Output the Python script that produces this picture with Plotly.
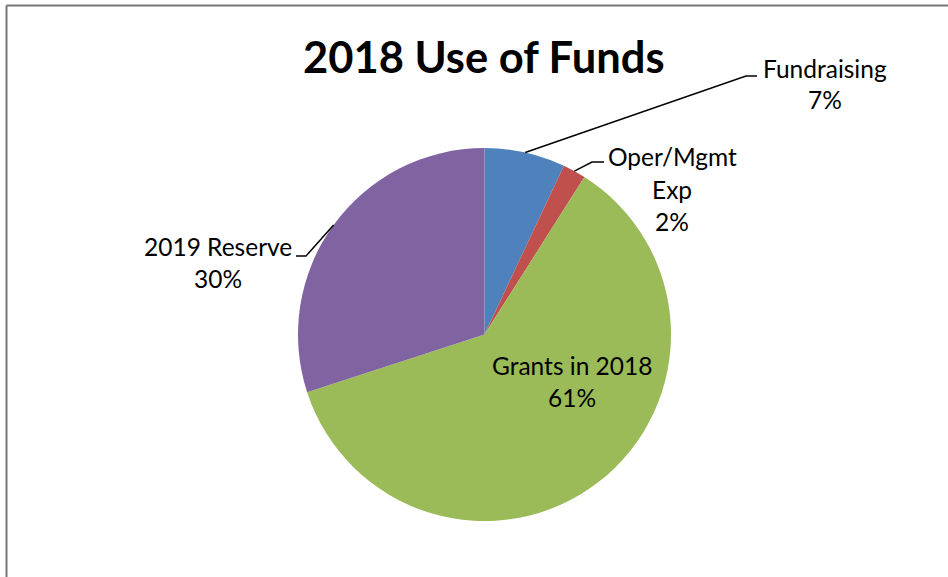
import math
import plotly.graph_objects as go

# Budget allocation, percent of total funds
categories = ["Fundraising", "Oper/Mgmt Exp", "Grants in 2018", "2019 Reserve"]
label_lines = [["Fundraising"], ["Oper/Mgmt", "Exp"], ["Grants in 2018"], ["2019 Reserve"]]
shares = [7, 2, 61, 30]
colors = ["#4F81BD", "#C0504D", "#9BBB59", "#8064A2"]

W, H = 948, 577
FONT = "Lato"

# pie geometry in pixels
cx, cy, R = 484.5, 334.5, 186.5

def px(x):
    return x / W

def py(y):
    return 1 - y / H

fig = go.Figure(go.Pie(
    labels=categories,
    values=shares,
    sort=False,
    direction="clockwise",
    rotation=0,
    textinfo="none",
    hoverinfo="label+percent",
    marker=dict(colors=colors, line=dict(width=0)),
    domain=dict(x=[px(cx - R), px(cx + R)], y=[py(cy + R), py(cy - R)]),
    showlegend=False,
))

# label placement (centre x, first-line y) and leader elbow/end points
label_pos = [(825, 68), (672, 157), (572, 365), (218, 247)]
leaders = [
    [(746, 76), (757, 76)],
    [(592, 162), (604, 162)],
    None,
    [(306, 256), (296, 256)],
]

annotations = []
shapes = []
total = sum(shares)
start = 0.0
for i, v in enumerate(shares):
    mid = (start + v / 2) / total * 2 * math.pi
    start += v
    lx, ly = label_pos[i]
    lines = label_lines[i] + [f"{round(100 * v / total)}%"]
    for k, t in enumerate(lines):
        annotations.append(dict(
            x=px(lx), y=py(ly + 32 * k), xref="paper", yref="paper",
            text=t, showarrow=False, xanchor="center", yanchor="middle",
            font=dict(family=FONT, size=24.5, color="#000000"),
        ))
    if leaders[i]:
        ex = cx + R * math.sin(mid)
        ey = cy - R * math.cos(mid)
        pts = [(ex, ey)] + leaders[i]
        path = "M " + " L ".join(f"{px(a)},{py(b)}" for a, b in pts)
        shapes.append(dict(type="path", path=path, xref="paper", yref="paper",
                           line=dict(color="#000000", width=1.5)))

annotations.append(dict(
    x=px(cx), y=py(56), xref="paper", yref="paper",
    text="<b>2018 Use of Funds</b>", showarrow=False,
    xanchor="center", yanchor="middle",
    font=dict(family=FONT, size=43.5, color="#000000"),
))

# chart-area frame (top and left edges)
frame = "#767676"
shapes.append(dict(type="line", xref="paper", yref="paper",
                   x0=px(6.5), x1=1, y0=py(5.5), y1=py(5.5),
                   line=dict(color=frame, width=2)))
shapes.append(dict(type="line", xref="paper", yref="paper",
                   x0=px(6.5), x1=px(6.5), y0=py(5.5), y1=0,
                   line=dict(color=frame, width=2)))

fig.update_layout(
    width=W, height=H,
    margin=dict(l=0, r=0, t=0, b=0),
    paper_bgcolor="#FFFFFF",
    plot_bgcolor="#FFFFFF",
    annotations=annotations,
    shapes=shapes,
)

fig.write_html("out.html")
